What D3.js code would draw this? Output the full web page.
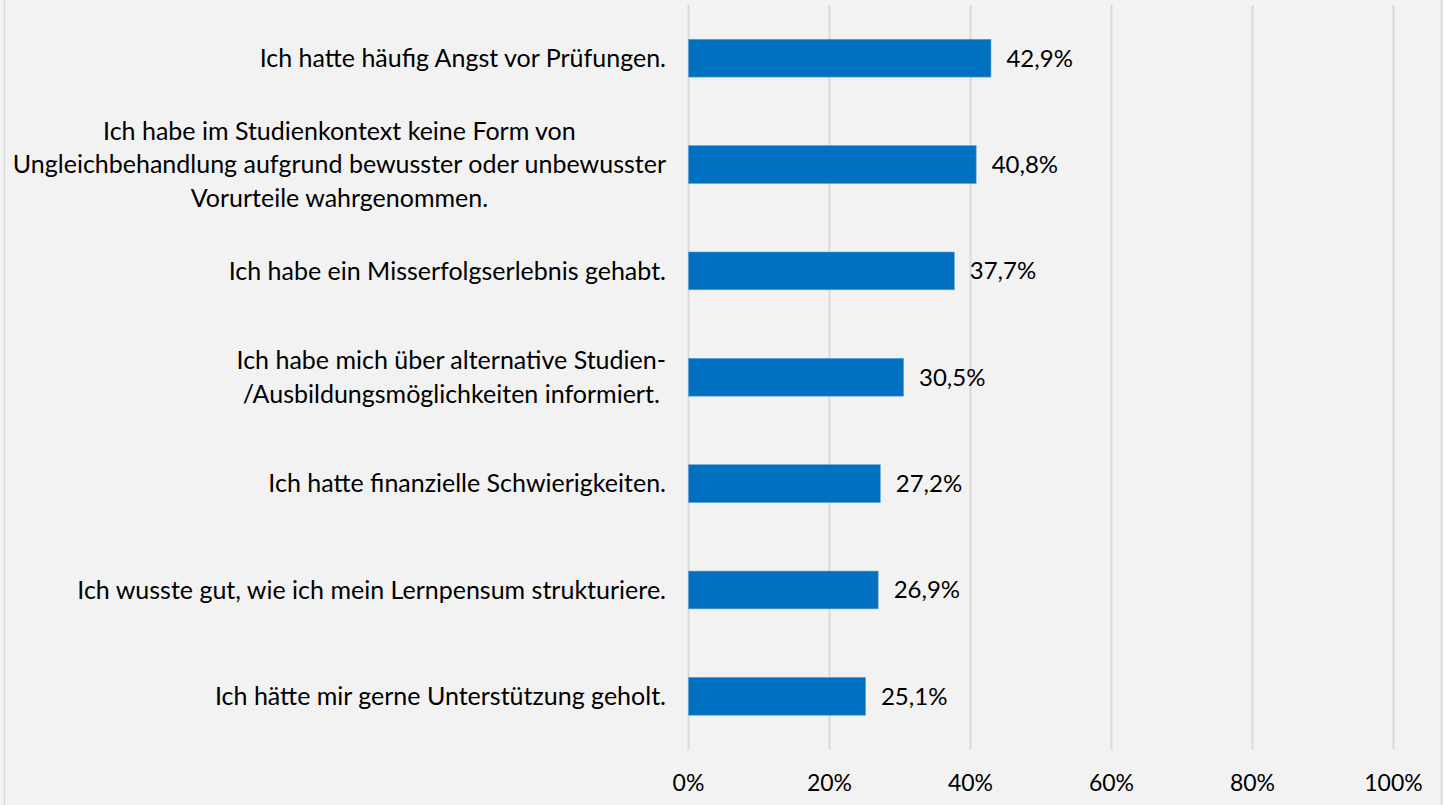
<!DOCTYPE html>
<html><head><meta charset="utf-8">
<script src="https://cdn.jsdelivr.net/npm/d3@7"></script>
<style>html,body{margin:0;padding:0;background:#f2f2f2;}svg{display:block;}</style>
</head><body>
<svg id="chart" width="1444" height="805"></svg>
<script>
const categories = [
  "Ich hatte häufig Angst vor Prüfungen.",
  "Ich habe im Studienkontext keine Form von|Ungleichbehandlung aufgrund bewusster oder unbewusster|Vorurteile wahrgenommen.",
  "Ich habe ein Misserfolgserlebnis gehabt.",
  "Ich habe mich über alternative Studien-|/Ausbildungsmöglichkeiten informiert.",
  "Ich hatte finanzielle Schwierigkeiten.",
  "Ich wusste gut, wie ich mein Lernpensum strukturiere.",
  "Ich hätte mir gerne Unterstützung geholt."
];
const values = [42.9, 40.8, 37.7, 30.5, 27.2, 26.9, 25.1];
const ticks = [0, 20, 40, 60, 80, 100];

const W = 1444, H = 805;
const svg = d3.select("#chart");
const font = "Lato, 'Open Sans', sans-serif";

svg.append("rect").attr("x", 0).attr("y", 0).attr("width", W).attr("height", H).attr("fill", "#f2f2f2");
svg.append("line").attr("x1", 4.5).attr("x2", 4.5).attr("y1", 0).attr("y2", H).attr("stroke", "#d9d9d9").attr("stroke-width", 1.5);
svg.append("line").attr("x1", 1441.5).attr("x2", 1441.5).attr("y1", 0).attr("y2", H).attr("stroke", "#d9d9d9").attr("stroke-width", 1.5);

const x = d3.scaleLinear().domain([0, 100]).range([688, 1393]);
const y = d3.scaleBand().domain(categories).range([5, 749.5]).paddingInner(0.645).paddingOuter(0.3225);

// gridlines
svg.append("g").selectAll("line").data(ticks).join("line")
  .attr("x1", d => x(d) + 0.5).attr("x2", d => x(d) + 0.5)
  .attr("y1", 5).attr("y2", 749.5)
  .attr("stroke", "#d9d9d9").attr("stroke-width", 2);

// x axis labels
const xAxis = d3.axisBottom(x).tickValues(ticks).tickFormat(d => d + "%").tickSize(0).tickPadding(0);
const gx = svg.append("g").attr("transform", "translate(0,783)").call(xAxis);
gx.select(".domain").remove();
gx.selectAll("text").attr("font-family", font).attr("font-size", 23).attr("fill", "#000")
  .attr("dy", "0.35em").attr("y", 0);

// bars
svg.append("g").selectAll("rect").data(values).join("rect")
  .attr("x", x(0) + 0.5)
  .attr("y", (d, i) => y(categories[i]))
  .attr("width", d => x(d) - x(0))
  .attr("height", y.bandwidth())
  .attr("fill", "#0070c0")
  .attr("stroke", "#5b9bd5").attr("stroke-width", 0.6);

// value labels
svg.append("g").selectAll("text").data(values).join("text")
  .attr("x", d => x(d) + 16)
  .attr("y", (d, i) => y(categories[i]) + y.bandwidth() / 2)
  .attr("dy", "0.35em")
  .attr("font-family", font).attr("font-size", 24).attr("fill", "#000")
  .text(d => d.toFixed(1).replace(".", ",") + "%");

// category labels
const lh = 33.5;
const cl = svg.append("g").selectAll("text").data(categories).join("text")
  .attr("text-anchor", "middle")
  .attr("font-family", font).attr("font-size", 25).attr("fill", "#000");
cl.each(function(d) {
  const lines = d.split("|");
  const cy = y(d) + y.bandwidth() / 2;
  const t = d3.select(this);
  lines.forEach((ln, k) => {
    t.append("tspan").attr("y", cy + (k - (lines.length - 1) / 2) * lh).attr("dy", "0.35em").text(ln);
  });
  let maxW = 0;
  t.selectAll("tspan").each(function() { maxW = Math.max(maxW, this.getComputedTextLength()); });
  t.selectAll("tspan").attr("x", 666 - maxW / 2);
});
</script>
</body></html>
